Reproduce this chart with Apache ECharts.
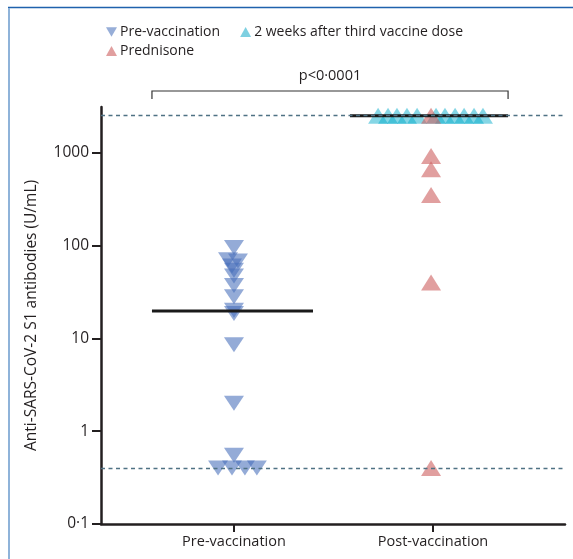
<!DOCTYPE html>
<html>
<head>
<meta charset="utf-8">
<script src="https://cdn.jsdelivr.net/npm/echarts@6/dist/echarts.min.js"></script>
<style>html,body{margin:0;padding:0;background:#fff}#c{width:573px;height:559px}</style>
</head>
<body>
<div id="c"></div>
<script>
// ---- data ----
var categories = ['Pre-vaccination', 'Post-vaccination'];
var yTickValues = [0.1, 1, 10, 100, 1000];
// Pre-vaccination (x = jittered category position, y = U/mL)
var preX      = [1.00, 0.97, 1.02, 0.99, 1.00, 1.00, 1.00, 1.00, 1.00, 1.00, 1.00, 1.00, 1.00, 0.92, 0.99, 1.055, 1.115];
var preValues = [95,   70,   68,   60,   54,   47,   37,   28,   20,   18.5, 8.5,  2,    0.55, 0.4,  0.4,  0.4,   0.4];
// 2 weeks after third vaccine dose
var postX      = [1.724, 1.774, 1.819, 1.869, 1.920, 2.015, 2.060, 2.111, 2.156, 2.206, 2.251];
var postValues = [2500, 2500, 2500, 2500, 2500, 2500, 2500, 2500, 2500, 2500, 2500];
// Prednisone
var predX      = [1.99, 1.99, 1.99, 1.99, 1.99, 1.99];
var predValues = [2500, 920,  660,  350,  40,   0.4];
// medians
var medianPre = 19.7;
var medianPost = 2500;
// limits (dashed lines)
var upperLimit = 2500;
var lowerLimit = 0.4;
var pText = 'p<0·0001';

function zip(xs, ys) { return xs.map(function (x, i) { return [x, ys[i]]; }); }

var FONT = 'Open Sans';
var TXT = '#231f20';
var chart = echarts.init(document.getElementById('c'), null, { renderer: 'canvas' });

var option = {
  animation: false,
  backgroundColor: '#ffffff',
  textStyle: { fontFamily: FONT },
  grid: { left: 101, right: 8, top: 107, bottom: 35, containLabel: false },
  legend: [
    {
      left: 101, top: 20, itemWidth: 11, itemHeight: 10, itemGap: 20,
      textStyle: { fontFamily: FONT, fontSize: 14, color: TXT, padding: [0, 0, 0, -2] },
      data: [
        { name: 'Pre-vaccination', icon: 'path://M0,0L20,0L10,17Z', itemStyle: { color: '#7d9ace' } },
        { name: '2 weeks after third vaccine dose', icon: 'triangle', itemStyle: { color: '#5ec4da' } }
      ]
    },
    {
      left: 101, top: 39, itemWidth: 11, itemHeight: 10,
      textStyle: { fontFamily: FONT, fontSize: 14, color: TXT, padding: [0, 0, 0, -2] },
      data: [{ name: 'Prednisone', icon: 'triangle', itemStyle: { color: '#da8787' } }]
    }
  ],
  xAxis: {
    type: 'value', min: 0.332, max: 2.663,
    splitLine: { show: false },
    axisLine: { show: true, onZero: false, lineStyle: { color: '#231f20', width: 2.5 } },
    axisTick: { show: true, length: 8, customValues: [1, 2], lineStyle: { color: '#231f20', width: 2 } },
    axisLabel: {
      customValues: [1, 2], margin: 10, fontSize: 14.5, color: TXT, fontFamily: FONT,
      formatter: function (v) { return categories[Math.round(v) - 1] || ''; }
    }
  },
  yAxis: {
    type: 'log', logBase: 10, min: 0.1, max: 3100,
    name: 'Anti-SARS-CoV-2 S1 antibodies (U/mL)',
    nameLocation: 'middle', nameGap: 61, nameRotate: 90,
    nameTextStyle: { fontSize: 15.5, color: TXT, fontFamily: FONT },
    splitLine: { show: false },
    axisLine: { show: true, lineStyle: { color: '#231f20', width: 2.5 } },
    axisTick: { show: true, length: 9, customValues: yTickValues, lineStyle: { color: '#231f20', width: 2 } },
    axisLabel: {
      customValues: yTickValues, margin: 12, fontSize: 15.5, color: TXT, fontFamily: FONT,
      formatter: function (v) { return String(v).replace('.', '·'); }
    }
  },
  series: [
    {
      name: 'limits', type: 'line', data: [], silent: true,
      markLine: {
        silent: true, symbol: 'none', label: { show: false },
        lineStyle: { color: '#4f7284', width: 1.3, type: [4, 3.5] },
        data: [{ yAxis: upperLimit }, { yAxis: lowerLimit }]
      }
    },
    {
      name: 'medianPre', type: 'line', symbol: 'none', silent: true,
      lineStyle: { color: '#1a1a1a', width: 3 },
      data: [[0.588, medianPre], [1.397, medianPre]]
    },
    {
      name: 'medianPost', type: 'line', symbol: 'none', silent: true,
      lineStyle: { color: '#1a1a1a', width: 3 },
      data: [[1.583, medianPost], [2.377, medianPost]]
    },
    {
      name: 'Pre-vaccination', type: 'scatter',
      symbol: 'triangle', symbolRotate: 180, symbolSize: [20, 15],
      itemStyle: { color: 'rgba(70,110,185,0.72)' },
      data: zip(preX, preValues)
    },
    {
      name: '2 weeks after third vaccine dose', type: 'scatter',
      symbol: 'triangle', symbolSize: [20, 16],
      itemStyle: { color: 'rgba(0,170,200,0.6)' },
      data: zip(postX, postValues)
    },
    {
      name: 'Prednisone', type: 'scatter',
      symbol: 'triangle', symbolSize: [20, 16],
      itemStyle: { color: 'rgba(205,95,95,0.75)' },
      data: zip(predX, predValues)
    }
  ]
};
chart.setOption(option);

// bracket + p value, placed from data x positions
var xl = chart.convertToPixel({ gridIndex: 0 }, [0.588, 1])[0];
var xr = chart.convertToPixel({ gridIndex: 0 }, [2.377, 1])[0];
var yTopGrid = 107;
chart.setOption({
  graphic: [
    { type: 'line', shape: { x1: 8, y1: 7.5, x2: 573, y2: 7.5 }, style: { stroke: '#1f62ad', lineWidth: 1.5 }, silent: true },
    { type: 'line', shape: { x1: 9, y1: 8, x2: 9, y2: 559 }, style: { stroke: '#8fb3d9', lineWidth: 2 }, silent: true },
    { type: 'polyline', shape: { points: [[xl, yTopGrid - 8], [xl, yTopGrid - 16], [xr, yTopGrid - 16], [xr, yTopGrid - 8]] },
      style: { stroke: '#333', lineWidth: 1.2, fill: null }, silent: true },
    { type: 'text', x: (xl + xr) / 2, y: yTopGrid - 31,
      style: { text: pText, fill: TXT, font: '14.5px "' + FONT + '"', align: 'center', verticalAlign: 'middle' }, silent: true }
  ]
});
</script>
</body>
</html>
